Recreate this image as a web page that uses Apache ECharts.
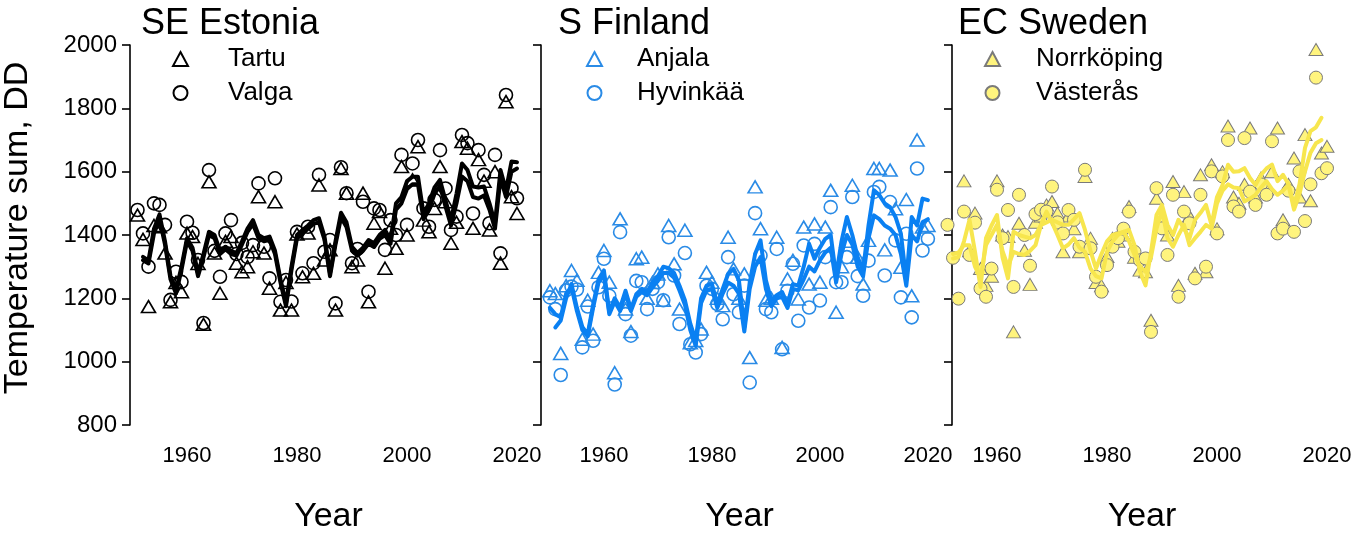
<!DOCTYPE html>
<html><head><meta charset="utf-8">
<script src="https://cdn.jsdelivr.net/npm/echarts@6/dist/echarts.min.js"></script>
<style>html,body{margin:0;padding:0;background:#fff}#c{width:1362px;height:533px}</style>
</head><body><div id="c"></div>
<script>
// ---------- data ----------
const xTickLabels = [1960, 1980, 2000, 2020];
const yTickLabels = [800, 1000, 1200, 1400, 1600, 1800, 2000];

// SE Estonia — station values 1951-2020
const estStart = 1951;
const estTartu = [1463,1386,1174,1430,1426,1343,1189,1250,1221,1406,
 1395,1310,1118,1568,1343,1216,1380,1395,1311,1284,
 1300,1347,1521,1343,1232,1505,1163,1250,1163,1403,
 1268,1406,1279,1558,1321,1353,1163,1610,1532,
 1300,1321,1532,1189,1437,1474,1295,1421,1358,1616,
 1400,1574,1679,1447,1410,1484,1616,1505,1374,1440,
 1695,1674,1421,1638,1570,1416,1600,1311,1821,1521,1468];
const estValga = [1479,1405,1300,1500,1495,1432,1195,1284,1252,1442,
 1407,1321,1122,1605,1350,1268,1405,1447,1340,1375,
 1330,1368,1563,1363,1263,1579,1189,1258,1190,1410,
 1279,1426,1311,1590,1347,1384,1184,1614,1532,
 1311,1356,1505,1221,1484,1479,1353,1447,1400,1653,
 1432,1626,1700,1484,1426,1511,1668,1547,1416,1458,
 1716,1690,1468,1668,1590,1437,1653,1342,1842,1547,1516];
// curves 1952-2020
const estLineStart = 1952;
const estLineA = [1331,1320,1420,1465,1380,1270,1226,1300,1390,1360,
 1280,1340,1410,1400,1350,1363,1350,1343,1380,1420,
 1447,1400,1390,1395,1350,1260,1185,1300,1400,1416,
 1430,1447,1453,1395,1279,1380,1470,1440,1363,
 1343,1360,1384,1374,1400,1416,1384,1500,1520,1570,
 1584,1584,1468,1500,1550,1574,1510,1447,1530,1626,
 1605,1553,1550,1553,1500,1437,1605,1542,1632,1630];
const estLineB = [1320,1310,1405,1450,1370,1260,1215,1290,1380,1350,
 1270,1330,1400,1390,1340,1355,1340,1335,1370,1410,
 1435,1390,1380,1385,1340,1250,1175,1290,1390,1405,
 1420,1435,1440,1385,1270,1370,1455,1425,1350,
 1335,1350,1372,1362,1388,1400,1372,1480,1500,1545,
 1560,1560,1450,1480,1530,1555,1490,1430,1500,1585,
 1570,1520,1515,1525,1480,1420,1580,1520,1600,1610];

// S Finland — station values 1950-2020
const finStart = 1950;
const finAnjala = [1224,1215,1026,1240,1288,1257,1071,1194,1087,1282,
 1351,1251,965,1451,1166,1095,1325,1330,1200,1250,
 1277,1194,1430,1309,1166,1415,1060,1067,1103,1282,
 1251,1200,1177,1393,1293,1200,1277,1013,1552,1420,
 1194,1200,1393,1045,1261,1320,1198,1425,1245,1435,
 1251,1425,1541,1156,1300,1380,1557,1330,1245,1383,
 1610,1610,1353,1605,1483,1298,1512,1208,1700,1425,1430];
const finHyvinkaa = [1203,1166,958,1225,1237,1228,1045,1174,1066,1235,
 1325,1208,928,1409,1150,1082,1255,1251,1166,1230,
 1251,1194,1393,1272,1119,1343,1055,1029,1087,1240,
 1230,1182,1134,1330,1213,1156,1240,934,1469,1335,
 1166,1156,1356,1039,1224,1309,1129,1367,1171,1372,
 1193,1330,1488,1251,1251,1330,1520,1270,1208,1319,
 1536,1552,1272,1504,1383,1203,1404,1140,1610,1351,1388];
// curve A 1951-2020, curve B 1950-2020
const finLineAStart = 1951, finLineBStart = 1950;
const finLineA = [1108,1130,1200,1245,1170,1110,1087,1180,1260,1288,
 1156,1200,1170,1224,1166,1213,1230,1220,1250,1270,
 1300,1295,1280,1240,1194,1120,1067,1200,1240,1245,
 1182,1230,1277,1293,1257,1108,1250,1340,1383,1257,
 1194,1210,1220,1182,1245,1240,1300,1372,1325,1360,
 1388,1400,1270,1380,1457,1400,1330,1289,1430,1541,
 1526,1500,1488,1457,1404,1257,1457,1430,1515,1510];
const finLineB = [1170,1150,1140,1215,1235,1160,1100,1080,1170,1250,1275,
 1150,1190,1160,1215,1160,1205,1220,1210,1235,1255,
 1280,1280,1265,1225,1180,1100,1050,1185,1225,1230,
 1170,1215,1250,1240,1215,1095,1230,1300,1330,1230,
 1175,1200,1205,1170,1230,1225,1260,1300,1285,1320,
 1345,1360,1250,1340,1400,1370,1300,1270,1390,1462,
 1450,1430,1420,1400,1340,1240,1400,1380,1440,1450];

// EC Sweden — station values 1951-2020
const sweStart = 1951;
const sweNorrkoping = [null,null,null,1571,1350,1469,1294,1241,1270,1571,
 1400,1395,1094,1437,1352,1244,1440,1460,1495,1506,
 1469,1347,1460,1420,1347,1585,1390,1250,1240,1332,
 1390,1380,1400,1490,1330,1289,1284,1131,1516,
 1440,1400,1569,1241,1537,1460,1279,1590,1284,1622,
 1420,1600,1744,1520,1500,1560,1738,1520,1580,1545,
 1600,1738,1448,1560,1643,1520,1717,1508,1986,1659,1680];
const sweVasteras = [1432,1328,1199,1474,1337,1439,1231,1205,1294,1543,
 1390,1479,1236,1527,1400,1303,1466,1480,1474,1553,
 1440,1405,1479,1448,1363,1606,1358,1268,1221,1305,
 1363,1390,1420,1474,1347,1320,1326,1094,1548,
 1421,1337,1527,1205,1474,1437,1263,1527,1300,1601,
 1405,1585,1700,1490,1474,1706,1537,1495,1560,1527,
 1696,1405,1420,1540,1410,1601,1444,1560,1897,1595,1611];
// curves 1952-2019
const sweLineStart = 1952;
const sweLineA = [1326,1330,1380,1448,1347,1236,1390,1430,1463,1330,
 1263,1410,1400,1395,1390,1400,1432,1440,1448,1440,
 1432,1432,1450,1469,1416,1350,1294,1340,1380,1400,
 1405,1410,1416,1368,1284,1241,1347,1463,1495,
 1432,1400,1448,1420,1390,1448,1470,1495,1432,1520,
 1558,1622,1600,1601,1611,1580,1558,1590,1610,1622,
 1570,1590,1560,1495,1560,1675,1728,1740,1770];
const sweLineB = [1340,1345,1368,1368,1300,1263,1368,1400,1432,1350,
 1300,1347,1340,1337,1350,1368,1432,1474,1440,1400,
 1358,1370,1390,1360,1347,1294,1270,1263,1347,1380,
 1400,1410,1380,1337,1300,1284,1330,1420,1479,
 1390,1363,1400,1432,1368,1390,1410,1432,1420,1500,
 1540,1560,1550,1548,1506,1515,1527,1550,1570,1545,
 1527,1540,1558,1480,1530,1601,1660,1690,1700];

// ---------- helpers ----------
function pairs(arr, startYear) {
  return arr.map((v, i) => [startYear + i, v]);
}
const FONT = "'Liberation Sans', Arial, sans-serif";
const BLACK = '#000000', BLUE_PT = '#2a8be6', BLUE_LN = '#0a80f2';
const YEL_FILL = '#fff47e', YEL_EDGE = '#7a7a7a', YEL_LN = '#f7e64e';

const gridBase = {top: 45, height: 380, containLabel: false, outerBoundsMode: 'none'};
const grids = [
  Object.assign({left: 130, width: 397}, gridBase),
  Object.assign({left: 541, width: 397}, gridBase),
  Object.assign({left: 952, width: 380}, gridBase)
];
const xRanges = [[1949.636, 2021.82], [1948.35, 2021.87], [1951.818, 2020.91]];

function xAxis(i) {
  return {
    type: 'value', gridIndex: i, min: xRanges[i][0], max: xRanges[i][1],
    axisLine: {show: false}, splitLine: {show: false},
    axisTick: {show: false},
    axisLabel: {customValues: xTickLabels, formatter: v => String(v),
                fontSize: 22, color: '#000', fontFamily: FONT, margin: 20},
    name: 'Year', nameLocation: 'middle', nameGap: 75,
    nameTextStyle: {fontSize: 34, color: '#000', fontFamily: FONT}
  };
}
function yAxis(i) {
  return {
    type: 'value', gridIndex: i, min: 800, max: 2000, interval: 200,
    axisLine: {show: true, onZero: false, lineStyle: {color: '#000', width: 1.6}},
    axisTick: {show: true, inside: false, length: 8, lineStyle: {color: '#000', width: 1.6}},
    splitLine: {show: false},
    axisLabel: {show: i === 0, formatter: v => String(v), fontSize: 24, color: '#000',
                fontFamily: FONT, margin: 13}
  };
}
function pts(name, arr, start, i, symbol, color, fill, bw) {
  return {
    name, type: 'scatter', xAxisIndex: i, yAxisIndex: i, clip: false,
    data: pairs(arr, start).filter(d => d[1] !== null),
    symbol, symbolSize: symbol === 'triangle' ? [14, 12] : 13,
    itemStyle: {color: fill, borderColor: color, borderWidth: bw, opacity: 1},
    z: 2, silent: true
  };
}
function curve(name, arr, start, i, color) {
  return {
    name, type: 'line', xAxisIndex: i, yAxisIndex: i,
    data: pairs(arr, start), showSymbol: false, symbol: 'none',
    lineStyle: {color, width: 4, join: 'round', cap: 'round'},
    z: 3, silent: true
  };
}
function legend(left, names, pad) {
  return {
    left, top: 46, padding: 0, orient: 'vertical', itemGap: 8, itemWidth: 15, itemHeight: 14,
    data: [{name: names[0], icon: 'triangle'}, {name: names[1], icon: 'circle'}],
    textStyle: {fontSize: 26, color: '#000', fontFamily: FONT, padding: [0, 0, 0, pad]},
    selectedMode: false
  };
}

const option = {
  animation: false,
  backgroundColor: '#fff',
  textStyle: {fontFamily: FONT},
  title: [
    {text: 'SE Estonia', left: 136, top: 1, textStyle: {fontSize: 36, fontWeight: 'normal', color: '#000', fontFamily: FONT}},
    {text: 'S Finland', left: 553, top: 1, textStyle: {fontSize: 36, fontWeight: 'normal', color: '#000', fontFamily: FONT}},
    {text: 'EC Sweden', left: 953, top: 1, textStyle: {fontSize: 36, fontWeight: 'normal', color: '#000', fontFamily: FONT}}
  ],
  legend: [
    legend(172, ['Tartu', 'Valga'], 35),
    legend(586, ['Anjala', 'Hyvinkää'], 30),
    legend(984, ['Norrköping', 'Västerås'], 31)
  ],
  grid: grids,
  xAxis: [xAxis(0), xAxis(1), xAxis(2)],
  yAxis: [yAxis(0), yAxis(1), yAxis(2)],
  graphic: [{
    type: 'text', x: 18, y: 228, rotation: Math.PI / 2,
    style: {text: 'Temperature sum, DD', fontSize: 34, fontFamily: FONT, fill: '#000',
            textAlign: 'center', textVerticalAlign: 'middle'}
  }],
  series: [
    pts('Tartu', estTartu, estStart, 0, 'triangle', BLACK, 'rgba(0,0,0,0)', 1.6),
    pts('Valga', estValga, estStart, 0, 'circle', BLACK, 'rgba(0,0,0,0)', 1.6),
    curve('Tartu curve', estLineA, estLineStart, 0, BLACK),
    curve('Valga curve', estLineB, estLineStart, 0, BLACK),
    pts('Anjala', finAnjala, finStart, 1, 'triangle', BLUE_PT, 'rgba(0,0,0,0)', 1.6),
    pts('Hyvinkää', finHyvinkaa, finStart, 1, 'circle', BLUE_PT, 'rgba(0,0,0,0)', 1.6),
    curve('Anjala curve', finLineA, finLineAStart, 1, BLUE_LN),
    curve('Hyvinkää curve', finLineB, finLineBStart, 1, BLUE_LN),
    pts('Norrköping', sweNorrkoping, sweStart, 2, 'triangle', YEL_EDGE, YEL_FILL, 1),
    pts('Västerås', sweVasteras, sweStart, 2, 'circle', YEL_EDGE, YEL_FILL, 1),
    curve('Norrköping curve', sweLineA, sweLineStart, 2, YEL_LN),
    curve('Västerås curve', sweLineB, sweLineStart, 2, YEL_LN)
  ]
};
const chart = echarts.init(document.getElementById('c'), null, {renderer: 'canvas'});
chart.setOption(option);
</script>
</body></html>
